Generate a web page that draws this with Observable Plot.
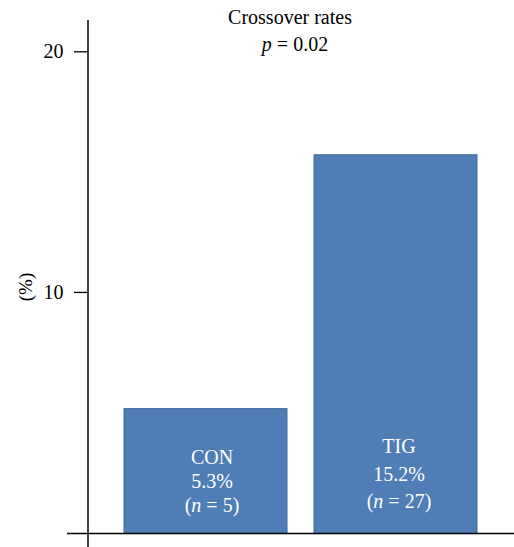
<!DOCTYPE html>
<html><head><meta charset="utf-8">
<script src="https://cdn.jsdelivr.net/npm/d3@7"></script>
<script src="https://cdn.jsdelivr.net/npm/@observablehq/plot@0.6"></script>
<style>body{margin:0;background:#fff}</style>
</head><body><div id="chart"></div>
<script>
// ---- data ----
const categories = ["CON", "TIG"];
const rates = [5.15, 15.7];            // bar heights as drawn (%)
const rateLabels = ["5.3%", "15.2%"];
const counts = [5, 27];
const yTicks = [10, 20];
const titleText = "Crossover rates";
const pText = "p = 0.02";
const yLabel = "(%)";

const data = categories.map((c, i) => ({cat: c, rate: rates[i], label: rateLabels[i], n: counts[i]}));

// ---- layout / style ----
const W = 514, H = 547;
const serif = "Liberation Serif, Times New Roman, serif";
const barFill = "#4f7db6", barStroke = "#3e6899";
const textLayout = {CON: {dx: 6, dy: [-69.5, -45.5, -21.5]}, TIG: {dx: 3, dy: [-80.5, -52.5, -25.5]}};

const inBar = [];
for (const c of categories) {
  const L = textLayout[c];
  const sub = data.filter(d => d.cat === c);
  const lines = [d => d.cat, d => d.label, d => `(n = ${d.n})`];
  lines.forEach((fn, k) => {
    inBar.push(Plot.text(sub, {x: "cat", y: () => 0, text: fn, dx: L.dx, dy: L.dy[k],
      lineAnchor: "bottom", fill: "white", fontSize: 20, fontFamily: serif}));
  });
}

const chart = Plot.plot({
  width: W, height: H,
  marginLeft: 88, marginRight: 1, marginTop: 20, marginBottom: 0,
  style: {fontFamily: serif, fontSize: "20px", background: "white", color: "black"},
  x: {domain: categories, paddingInner: 0.143, paddingOuter: 0.185, axis: null},
  y: {domain: [-0.6, 21.3], axis: null},
  marks: [
    Plot.barY(data, {x: "cat", y: "rate", fill: barFill, stroke: barStroke, strokeWidth: 1, insetBottom: -1}),
    Plot.axisY({ticks: yTicks, tickSize: 14, tickPadding: 11, tickFormat: d => String(d), fontSize: 20, fontFamily: serif, strokeWidth: 1.3, label: null}),
    ...inBar,
    Plot.text([titleText], {frameAnchor: "top", text: d => d, dx: -11, dy: 3.3, lineAnchor: "bottom", fontSize: 20, fontFamily: serif}),
    Plot.text([pText], {frameAnchor: "top", text: d => d, dx: -6, dy: 30, lineAnchor: "bottom", fontSize: 20, fontFamily: serif}),
    Plot.text([yLabel], {frameAnchor: "left", textAnchor: "middle", text: d => d, dx: -63, dy: 3, rotate: -90, fontSize: 19, fontFamily: serif})
  ]
});

// axis lines drawn using the library's scales
const svg = d3.select(chart);
const y0 = chart.scale("y").apply(0);
const xAxis = 88;
svg.append("line").attr("x1", 67).attr("x2", W).attr("y1", y0 + 1).attr("y2", y0 + 1)
  .attr("stroke", "black").attr("stroke-width", 1.5);
svg.append("line").attr("x1", xAxis).attr("x2", xAxis).attr("y1", 20).attr("y2", H)
  .attr("stroke", "black").attr("stroke-width", 1.5);

// italic math letters
svg.selectAll("text").each(function () {
  const t = this.textContent;
  let m;
  if ((m = t.match(/^\(n = (\d+)\)$/))) {
    d3.select(this).html(`(<tspan font-style="italic">n</tspan> = ${m[1]})`);
  } else if ((m = t.match(/^p = (.*)$/))) {
    d3.select(this).html(`<tspan font-style="italic">p</tspan> = ${m[1]}`);
  }
});

document.getElementById("chart").appendChild(chart);
</script></body></html>
